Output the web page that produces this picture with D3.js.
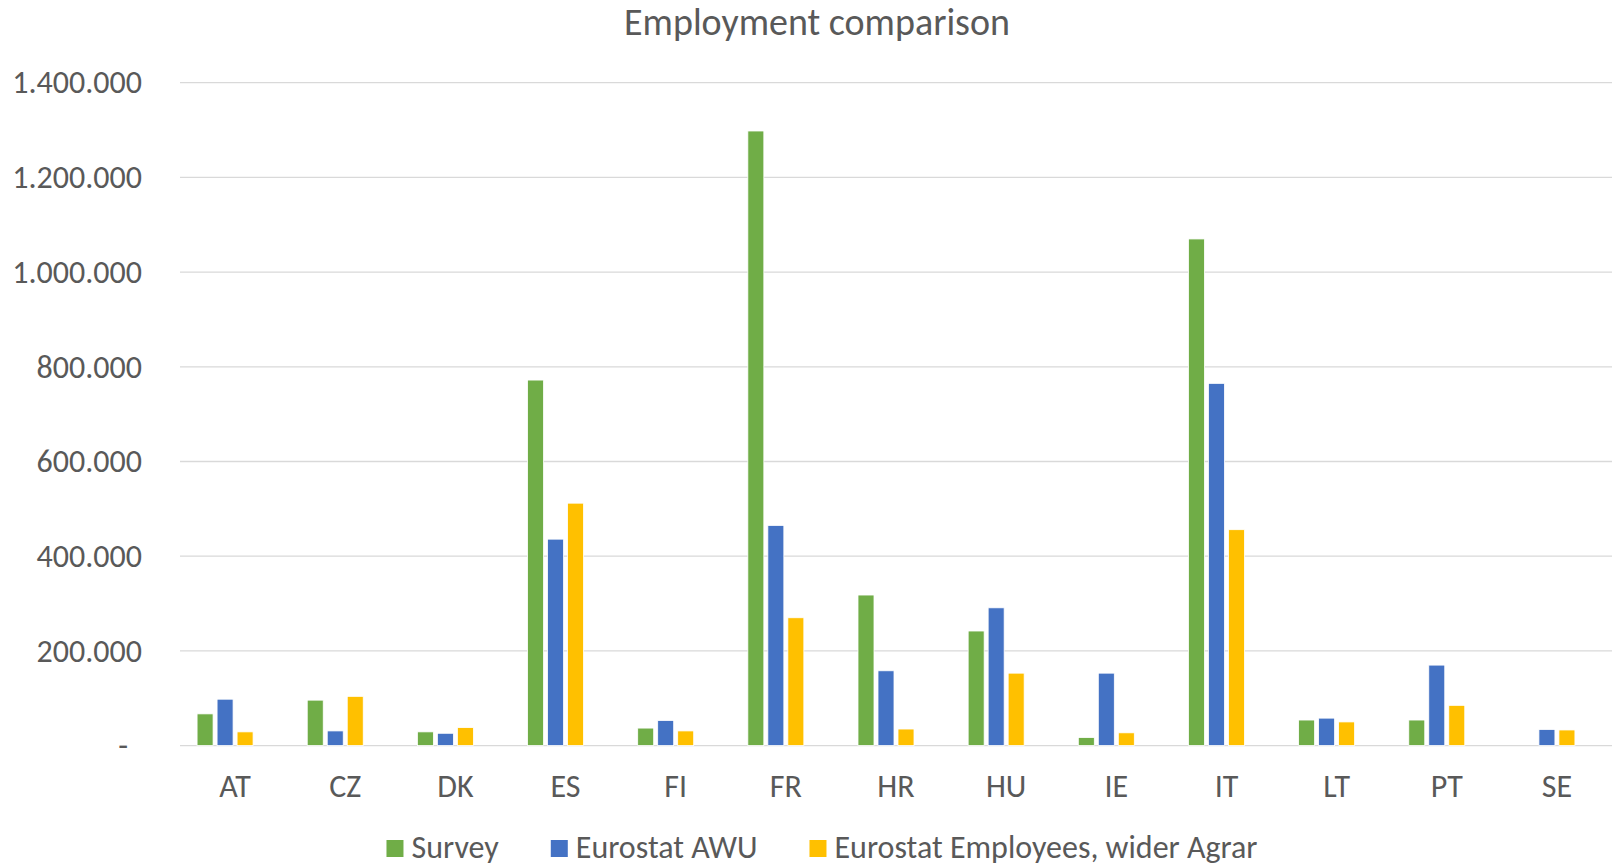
<!DOCTYPE html>
<html lang="en">
<head>
    <meta charset="UTF-8">
    <title>Employment comparison</title>
    <style>
        body { margin: 0; background: #fff; }
        svg text { font-family: Carlito, Calibri, Lato, sans-serif; fill: #595959; }
    </style>
</head>
<body>
    <div id="chart"></div>

    <script src="https://cdnjs.cloudflare.com/ajax/libs/d3/7.8.5/d3.min.js"></script>
    <script>
        // Data
        const countries = ["AT", "CZ", "DK", "ES", "FI", "FR", "HR", "HU", "IE", "IT", "LT", "PT", "SE"];
        const seriesNames = ["Survey", "Eurostat AWU", "Eurostat Employees, wider Agrar"];
        const survey = [67000, 96000, 29000, 772000, 37000, 1298000, 318000, 242000, 17000, 1070000, 54000, 54000, null];
        const awu = [98000, 31000, 26000, 436000, 53000, 465000, 158000, 291000, 153000, 765000, 58000, 170000, 34000];
        const employees = [29000, 104000, 38000, 512000, 31000, 270000, 35000, 153000, 27000, 456000, 50000, 85000, 33000];
        const yTicks = [0, 200000, 400000, 600000, 800000, 1000000, 1200000, 1400000];
        const colors = ["#70ad47", "#4472c4", "#ffc000"];

        const seriesValues = [survey, awu, employees];

        const width = 1612, height = 866;
        const margin = { top: 82.7, right: 0, bottom: 120.4, left: 180 };

        const svg = d3.select("#chart")
                      .append("svg")
                      .attr("width", width)
                      .attr("height", height);

        const xScale = d3.scaleBand()
                         .domain(countries)
                         .range([margin.left, width - margin.right])
                         .paddingInner(0.2737)
                         .paddingOuter(0.2737 / 2);

        // the source chart keeps room for a fourth, empty series in each group
        const xInner = d3.scaleBand()
                         .domain(d3.range(seriesNames.length + 1))
                         .range([0, xScale.bandwidth()])
                         .paddingInner(0.2)
                         .paddingOuter(0.1);

        const yScale = d3.scaleLinear()
                         .domain([0, 1400000])
                         .range([height - margin.bottom, margin.top]);

        const locale = d3.formatLocale({ decimal: ",", thousands: ".", grouping: [3], currency: ["", "€"] });
        const fmt = locale.format(",.0f");

        // Gridlines
        svg.append("g")
           .selectAll("line")
           .data(yTicks)
           .enter()
           .append("line")
           .attr("x1", margin.left)
           .attr("x2", width - margin.right)
           .attr("y1", d => yScale(d))
           .attr("y2", d => yScale(d))
           .attr("stroke", "#d9d9d9")
           .attr("stroke-width", 1.3);

        // Y axis labels
        const yAxis = d3.axisLeft(yScale)
                        .tickValues(yTicks)
                        .tickSize(0)
                        .tickPadding(38)
                        .tickFormat(d => d === 0 ? "-" : fmt(d));

        const yG = svg.append("g")
                      .attr("transform", "translate(" + margin.left + ",0)")
                      .call(yAxis);
        yG.select(".domain").remove();
        yG.selectAll("text")
          .style("font-size", "32px")
          .attr("fill", "#595959");
        yG.selectAll(".tick")
          .filter(d => d === 0)
          .select("text")
          .attr("x", -52);

        // Bars
        seriesValues.forEach(function(values, i) {
            svg.append("g")
               .selectAll("rect")
               .data(countries.map((c, j) => ({ country: c, value: values[j] })).filter(d => d.value != null))
               .enter()
               .append("rect")
               .attr("x", d => xScale(d.country) + xInner(i))
               .attr("y", d => yScale(d.value))
               .attr("width", xInner.bandwidth())
               .attr("height", d => yScale(0) - yScale(d.value))
               .attr("fill", colors[i])
               .attr("stroke", "#ffffff")
               .attr("stroke-width", 0.8);
        });

        // X axis labels
        const xAxis = d3.axisBottom(xScale)
                        .tickSize(0)
                        .tickPadding(29);

        const xG = svg.append("g")
                      .attr("transform", "translate(0," + yScale(0) + ")")
                      .call(xAxis);
        xG.select(".domain").remove();
        xG.selectAll("text")
          .style("font-size", "32px")
          .attr("fill", "#595959");

        // Title
        svg.append("text")
           .attr("x", 817)
           .attr("y", 35)
           .attr("text-anchor", "middle")
           .style("font-size", "38px")
           .text("Employment comparison");

        // Legend
        const legend = svg.append("g");
        let lx = 0;
        seriesNames.forEach(function(name, i) {
            const item = legend.append("g").attr("transform", "translate(" + lx + ",0)");
            item.append("rect")
                .attr("x", 0)
                .attr("y", 840)
                .attr("width", 17)
                .attr("height", 17)
                .attr("fill", colors[i]);
            const t = item.append("text")
                          .attr("x", 25)
                          .attr("y", 858)
                          .style("font-size", "32px")
                          .text(name);
            lx += 25 + t.node().getComputedTextLength() + 52;
        });
        const legendWidth = lx - 52;
        legend.attr("transform", "translate(" + (822 - legendWidth / 2) + ",0)");
    </script>
</body>
</html>
